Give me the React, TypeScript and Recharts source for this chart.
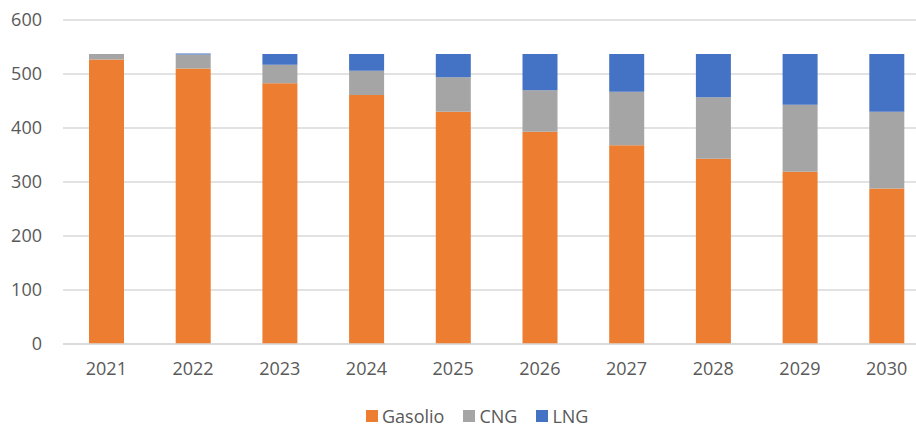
import { BarChart, Bar, XAxis, YAxis, CartesianGrid, Legend } from 'recharts';

const years = ['2021', '2022', '2023', '2024', '2025', '2026', '2027', '2028', '2029', '2030'];
const gasolio = [527, 510, 483, 461, 430, 393, 368, 343, 319, 288];
const cng = [10, 26, 34, 45, 64, 77, 99, 114, 124, 142];
const lng = [0, 2, 20, 31, 43, 67, 70, 80, 94, 107];
const yTicks = [0, 100, 200, 300, 400, 500, 600];

const SERIES = [
  { key: 'Gasolio', color: '#ED7D31' },
  { key: 'CNG', color: '#A5A5A5' },
  { key: 'LNG', color: '#4472C4' },
];

const data = years.map((year, i) => ({
  year,
  Gasolio: gasolio[i],
  CNG: cng[i],
  LNG: lng[i],
}));

const FONT = '"Open Sans", sans-serif';
const TEXT = '#595959';
const FONT_SIZE = 18;

function LegendRow() {
  return (
    <div
      style={{
        display: 'flex',
        alignItems: 'center',
        height: 18,
        fontFamily: FONT,
        fontSize: FONT_SIZE,
        lineHeight: '18px',
        color: TEXT,
        whiteSpace: 'nowrap',
      }}
    >
      {SERIES.map((s) => (
        <div key={s.key} style={{ display: 'flex', alignItems: 'center', marginRight: 19 }}>
          <span style={{ width: 12, height: 12, background: s.color, marginRight: 4 }} />
          <span>{s.key}</span>
        </div>
      ))}
    </div>
  );
}

export default function App() {
  return (
    <div style={{ position: 'absolute', left: 0, top: 0, width: 916, height: 427, overflow: 'hidden', background: '#fff' }}>
      <BarChart width={930} height={427} data={data} margin={{ top: 20, right: 0, bottom: 0, left: 0 }}>
        <CartesianGrid vertical={false} stroke="#D9D9D9" strokeWidth={1.3} />
        <XAxis
          dataKey="year"
          height={65}
          tickLine={false}
          tickSize={0}
          tickMargin={18}
          axisLine={{ stroke: '#D9D9D9', strokeWidth: 1.3 }}
          tick={{ fill: TEXT, fontSize: FONT_SIZE, fontFamily: FONT }}
        />
        <YAxis
          width={63}
          domain={[0, 600]}
          ticks={yTicks}
          axisLine={false}
          tickLine={false}
          tickSize={0}
          tickMargin={21}
          tick={{ fill: TEXT, fontSize: FONT_SIZE, fontFamily: FONT }}
        />
        <Legend
          content={() => <LegendRow />}
          wrapperStyle={{ position: 'absolute', left: 366, top: 407, width: 260, height: 18 }}
        />
        {SERIES.map((s) => (
          <Bar key={s.key} dataKey={s.key} stackId="fuel" fill={s.color} barSize={35} isAnimationActive={false} />
        ))}
      </BarChart>
    </div>
  );
}
